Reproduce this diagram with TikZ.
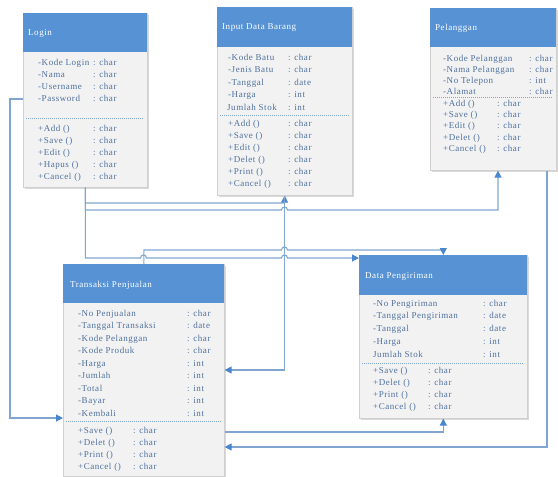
\documentclass[tikz,border=0pt]{standalone}
\usepackage{fontspec}
\setmainfont{Liberation Serif}[LetterSpace=6]
\usetikzlibrary{arrows.meta,shadows}
\definecolor{headc}{RGB}{86,146,212}
\definecolor{bodyc}{RGB}{242,242,242}
\definecolor{edgec}{RGB}{208,208,208}
\definecolor{txtc}{RGB}{78,112,158}
\definecolor{linec}{RGB}{128,166,208}
\definecolor{tipc}{RGB}{72,135,205}
\tikzset{
  classbox/.style={draw=edgec, fill=bodyc, line width=0.6pt, anchor=north west, inner sep=0pt,
    drop shadow={shadow xshift=1.5pt, shadow yshift=-1.5pt, opacity=0.25, fill=black!60}},
  headbox/.style={fill=headc, anchor=north west, inner sep=0pt},
  titletext/.style={anchor=base west, inner sep=0pt, text=white, font=\fontsize{9}{10}\selectfont},
  rowtext/.style={anchor=base west, inner sep=0pt, text=txtc, font=\fontsize{9}{10}\selectfont},
  sepline/.style={draw=linec, line width=0.6pt, dash pattern=on 1.2pt off 0.8pt},
  conn/.style={draw=linec, line width=1.1pt, -{Triangle[length=7pt,width=7pt,color=tipc]}},
  plainconn/.style={draw=linec, line width=1.1pt}
}
\newcommand\umlrows[6]{%
  \foreach \a/\b [count=\i from 0] in {#6}{%
    \node[rowtext] (#1l\i) at (#2,{#4+3+\i*#5}) {\a};
    \node[rowtext] (#1r\i) at (#3,{#4+3+\i*#5}) {: \b};
  }}
\begin{document}
\begin{tikzpicture}[x=1pt,y=-1pt]
\useasboundingbox (0,0) rectangle (558,477);

% ---------- Login ----------
\node[classbox, minimum width=124pt, minimum height=174pt] (login) at (23,13) {};
\node[headbox, minimum width=124pt, minimum height=39pt] (loginh) at (login.north west) {};
\node[titletext] (logint) at (28,35) {Login};
\umlrows{loginA}{38}{93}{62}{12.3}{-Kode Login/char, -Nama/char, -Username/char, -Password/char}
\draw[sepline] (26,118) -- (144,118);
\umlrows{loginM}{38}{93}{128}{12}{+Add ()/char, +Save ()/char, +Edit ()/char, +Hapus ()/char, +Cancel ()/char}

% ---------- Input Data Barang ----------
\node[classbox, minimum width=135pt, minimum height=188pt] (input) at (217,7) {};
\node[headbox, minimum width=135pt, minimum height=40pt] (inputh) at (input.north west) {};
\node[titletext] (inputt) at (222,29) {Input Data Barang};
\umlrows{inputA}{228}{288}{57}{12.5}{-Kode Batu/char, -Jenis Batu/char, -Tanggal/date, -Harga/int}
\node[rowtext] (inputjs) at (227,110) {Jumlah Stok};
\node[rowtext] (inputjst) at (288,110) {: int};
\draw[sepline] (220,115) -- (349,115);
\umlrows{inputM}{228}{288}{123}{12}{+Add ()/char, +Save ()/char, +Edit ()/char, +Delet ()/char, +Print ()/char, +Cancel ()/char}

% ---------- Pelanggan ----------
\node[classbox, minimum width=126pt, minimum height=162pt] (pel) at (430,8) {};
\node[headbox, minimum width=126pt, minimum height=39pt] (pelh) at (pel.north west) {};
\node[titletext] (pelt) at (435,30) {Pelanggan};
\umlrows{pelA}{443}{529}{58}{11.2}{-Kode Pelanggan/char, -Nama Pelanggan/char, -No Telepon/int, -Alamat/char}
\draw[sepline] (433,97) -- (553,97);
\umlrows{pelM}{443}{497}{103.5}{11.2}{+Add ()/char, +Save ()/char, +Edit ()/char, +Delet ()/char, +Cancel ()/char}

% ---------- Transaksi Penjualan ----------
\node[classbox, minimum width=161pt, minimum height=212pt] (trans) at (63,264) {};
\node[headbox, minimum width=161pt, minimum height=39pt] (transh) at (trans.north west) {};
\node[titletext] (transt) at (70,287) {Transaksi Penjualan};
\umlrows{transA}{78}{187}{313}{12.5}{-No Penjualan/char, -Tanggal Transaksi/date, -Kode Pelanggan/char, -Kode Produk/char, -Harga/int, -Jumlah/int, -Total/int, -Bayar/int, -Kembali/int}
\draw[sepline] (66,421) -- (221,421);
\umlrows{transM}{78}{133}{430}{12.3}{+Save ()/char, +Delet ()/char, +Print ()/char, +Cancel ()/char}

% ---------- Data Pengiriman ----------
\node[classbox, minimum width=168pt, minimum height=163pt] (dp) at (359,255) {};
\node[headbox, minimum width=168pt, minimum height=40pt] (dph) at (dp.north west) {};
\node[titletext] (dpt) at (365,278) {Data Pengiriman};
\umlrows{dpA}{373}{483}{303}{12.75}{-No Pengiriman/char, -Tanggal Pengiriman/date, -Tanggal/date, -Harga/int}
\node[rowtext] (dpjs) at (373,357) {Jumlah Stok};
\node[rowtext] (dpjst) at (483,357) {: int};
\draw[sepline] (362,363) -- (524,363);
\umlrows{dpM}{373}{428}{370}{12.3}{+Save ()/char, +Delet ()/char, +Print ()/char, +Cancel ()/char}

% ---------- Connectors ----------
% Login -> Data Pengiriman (left)
\draw[conn] (login.south) |- (140.5,258)
  arc[start angle=180, end angle=0, radius=3pt] -- (281.5,258)
  arc[start angle=180, end angle=0, radius=3pt] -- (dp.west |- 0,258);
% Login -> Input Data Barang
\draw[conn] (login.south) |- (284.5,203) -- (input.south);
% Login -> Pelanggan
\draw[conn] (login.south) |- (281.5,210)
  arc[start angle=180, end angle=0, radius=3pt] -- (498,210) -- (498,0 |- pel.south);
% Input Data Barang -> Transaksi Penjualan
\draw[conn] (input.south) |- (trans.east |- 0,370);
% Transaksi Penjualan -> Data Pengiriman (top)
\draw[conn] (trans.north) |- (281.5,250)
  arc[start angle=180, end angle=0, radius=3pt] -| (dp.north);
% Transaksi Penjualan -> Data Pengiriman (bottom)
\draw[conn] (trans.east |- 0,432) -| (dp.south);
% Pelanggan -> Transaksi Penjualan
\draw[conn] (547,0 |- pel.south) |- (trans.east |- 0,447);
% Login -> Transaksi Penjualan (left)
\draw[conn] (login.west |- 0,99) -- (10,99) -- (10,418) -- (trans.west |- 0,418);
\end{tikzpicture}
\end{document}
